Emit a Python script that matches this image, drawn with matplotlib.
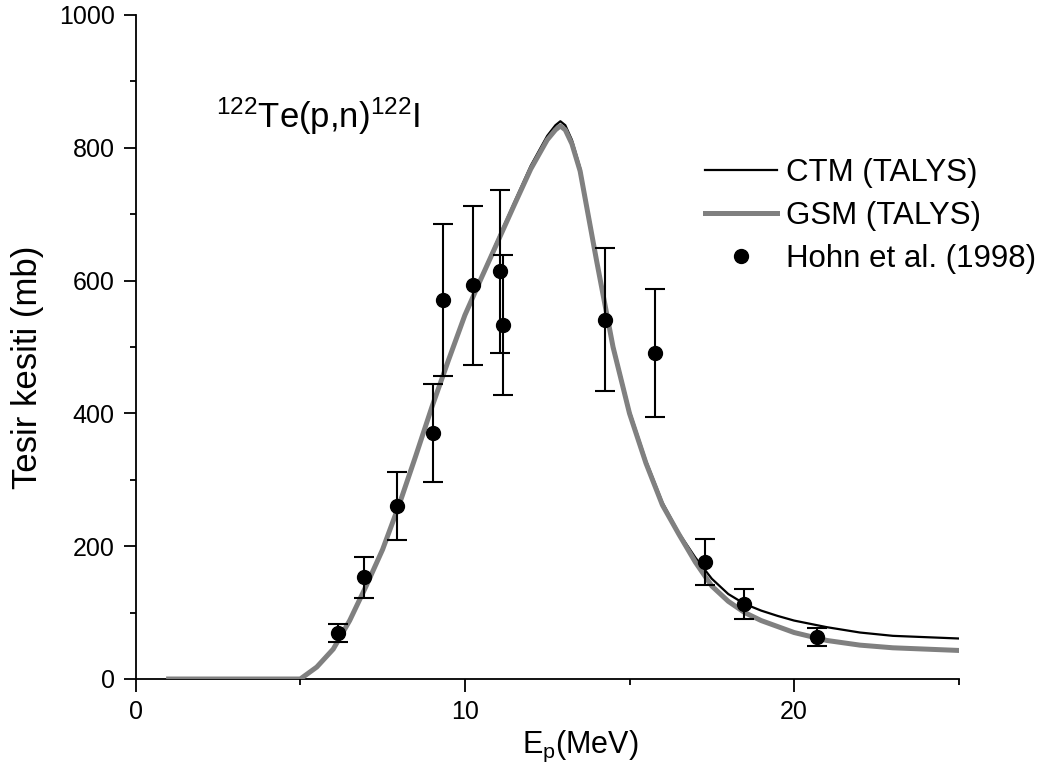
import matplotlib
matplotlib.use("Agg")
import matplotlib.pyplot as plt
from matplotlib.ticker import MultipleLocator

plt.rcParams['font.family'] = ['Liberation Sans', 'DejaVu Sans']
plt.rcParams['mathtext.fontset'] = 'custom'
plt.rcParams['mathtext.rm'] = 'Liberation Sans'
plt.rcParams['mathtext.it'] = 'Liberation Sans:italic'
plt.rcParams['mathtext.bf'] = 'Liberation Sans:bold'
plt.rcParams['mathtext.default'] = 'regular'

# ---- data ----
energy = [1, 5, 5.5, 6, 6.5, 7, 7.5, 8, 8.5, 9, 9.5, 10, 10.5, 11, 11.5, 12, 12.5,
          12.75, 12.9, 13.05, 13.25, 13.5, 14, 14.5, 15, 15.5, 16, 16.5, 17, 17.5, 18, 18.5, 19,
          19.5, 20, 21, 22, 23, 24, 25]
ctm = [0, 0, 18, 45, 88, 140, 195, 262, 335, 410, 480, 548, 606, 662, 718, 773, 818,
       834, 840, 834, 812, 770, 634, 504, 404, 329, 266, 220, 183, 151, 128, 113, 103,
       95, 88, 78, 70, 65, 63, 61]
gsm = [0, 0, 18, 45, 88, 140, 195, 262, 335, 410, 480, 548, 604, 659, 714, 768, 812,
       827, 833, 827, 806, 765, 630, 500, 400, 325, 262, 218, 176, 140, 117, 100, 88,
       79, 70, 58, 51, 47, 45, 43]

exp_E = [6.14, 6.93, 7.94, 9.03, 9.34, 10.25, 11.07, 11.15, 14.26, 15.76, 17.29, 18.49, 20.70]
exp_sigma = [69, 153, 260, 370, 571, 593, 614, 533, 541, 491, 176, 113, 63]
exp_err = [14, 31, 51, 74, 114, 120, 123, 106, 108, 97, 35, 23, 14]

xticks_major = [0, 10, 20]
yticks_major = [0, 200, 400, 600, 800, 1000]

# ---- figure ----
W, H = 1055, 782
fig = plt.figure(figsize=(W / 100, H / 100), dpi=100)
x0, x1, y0, y1 = 135.7, 958.7, 15, 679
ax = fig.add_axes([x0 / W, 1 - y1 / H, (x1 - x0) / W, (y1 - y0) / H])

ax.plot(energy, ctm, color='black', lw=1.6, label='CTM (TALYS)', zorder=2)
ax.plot(energy, gsm, color='#808080', lw=3.6, label='GSM (TALYS)', zorder=3)
ax.errorbar(exp_E, exp_sigma, yerr=exp_err, fmt='none', ecolor='black',
            elinewidth=1.5, capsize=7, capthick=1.5, zorder=4)
ax.plot(exp_E, exp_sigma, 'o', color='black', ms=10, label='Hohn et al. (1998)', zorder=5)

ax.set_xlim(0, 25)
ax.set_ylim(0, 1000)
ax.set_xticks(xticks_major)
ax.set_yticks(yticks_major)
ax.xaxis.set_minor_locator(MultipleLocator(5))
ax.yaxis.set_minor_locator(MultipleLocator(100))
for s in ['top', 'right']:
    ax.spines[s].set_visible(False)
for s in ['left', 'bottom']:
    ax.spines[s].set_linewidth(1.3)
ax.tick_params(which='major', direction='out', length=9, width=1.3, labelsize=18, pad=6)
ax.tick_params(which='minor', direction='out', length=4.5, width=1.3)

fig.text(580 / W, 1 - 753 / H, r'E$_\mathrm{p}$(MeV)', fontsize=22, ha='center', va='baseline')
fig.text(36.7 / W, 1 - 367 / H, 'Tesir kesiti (mb)', fontsize=25, rotation=90,
         rotation_mode='anchor', ha='center', va='baseline')
fig.text(216 / W, 1 - 128 / H, r'$^{122}$Te(p,n)$^{122}$I', fontsize=25, ha='left', va='baseline')

leg = ax.legend(loc='upper left', bbox_to_anchor=(705 / W, 1 - 158 / H),
                bbox_transform=fig.transFigure, frameon=False, fontsize=22.5,
                handlelength=2.3, handletextpad=0.3, labelspacing=0.42,
                borderpad=0, borderaxespad=0)

fig.savefig('out.png', dpi=100)
